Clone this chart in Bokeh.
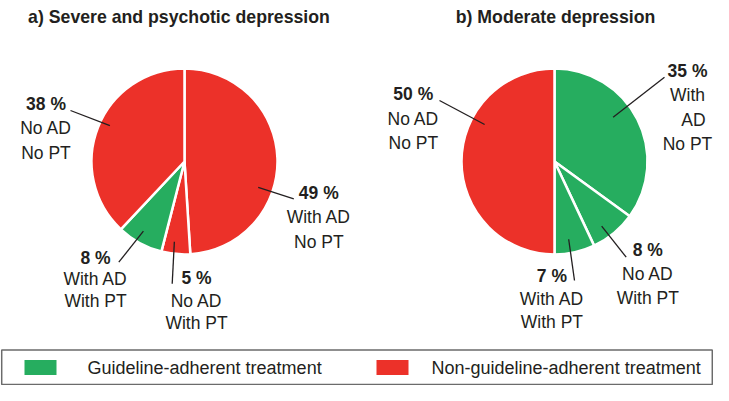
import math
from bokeh.plotting import figure
from bokeh.models import Range1d, ColumnDataSource
from bokeh.embed import file_html
from bokeh.resources import INLINE
from bokeh.core.properties import value

# ---------------- data ----------------
titles = ["a) Severe and psychotic depression", "b) Moderate depression"]

a_values = [49, 5, 8, 38]
a_lines = [["With AD", "No PT"], ["No AD", "With PT"], ["With AD", "With PT"], ["No AD", "No PT"]]
a_adherent = [False, False, True, False]

b_values = [35, 8, 7, 50]
b_lines = [["With", "AD", "No PT"], ["No AD", "With PT"], ["With AD", "With PT"], ["No AD", "No PT"]]
b_adherent = [True, True, True, False]

legend_labels = ["Guideline-adherent treatment", "Non-guideline-adherent treatment"]

# ---------------- style / layout ----------------
GREEN = "#26AD5F"
RED = "#EC3129"
TXT = "#231f20"
FONT = "Liberation Sans"

W, H = 713, 385


def Y(py):
    return -py


p = figure(width=W, height=H, x_range=Range1d(0, W), y_range=Range1d(-H, 0),
           output_backend="svg", toolbar_location=None, min_border=0,
           x_axis_location=None, y_axis_location=None)
p.grid.visible = False
p.outline_line_color = None

pies = [
    dict(values=a_values, lines=a_lines, adherent=a_adherent, title=titles[0],
         cx=184, cy=161, r=93, title_x=178.5,
         anchor=[(0.62, 0.84), (0.6, 0.87), (0.56, 0.87), (0.53, 0.89)],
         label_xy=[(318.3, 192), (196, 277.8), (95, 257), (45.5, 103.5)],
         leader_end=[(293.3, 198.3), (171.7, 283.3), (118.3, 261.7), (70, 110)],
         spacing=[24.5, 22.5, 21.5, 24.3]),
    dict(values=b_values, lines=b_lines, adherent=b_adherent, title=titles[1],
         cx=554, cy=161, r=93, title_x=555,
         anchor=[(0.42, 0.79), (0.62, 0.86), (0.59, 0.85), (0.655, 0.85)],
         label_xy=[(687, 70), (647.3, 249.7), (551.4, 275.5), (412.8, 93.7)],
         leader_end=[(664, 76.7), (625.7, 256.7), (574, 280), (439, 100)],
         spacing=[24.5, 24, 23, 24.4]),
]

for pie in pies:
    vals = pie["values"]
    total = float(sum(vals))
    cx, cy, r = pie["cx"], pie["cy"], pie["r"]
    starts, ends, colors = [], [], []
    seg = dict(x0=[], y0=[], x1=[], y1=[])
    bold = dict(x=[], y=[], t=[])
    norm = dict(x=[], y=[], t=[])
    cum = 0.0
    for i, v in enumerate(vals):
        t1 = cum / total * 2 * math.pi
        cum += v
        t2 = cum / total * 2 * math.pi
        # clockwise from 12 o'clock -> bokeh anticlockwise from +x
        starts.append(math.pi / 2 - t2)
        ends.append(math.pi / 2 - t1)
        colors.append(GREEN if pie["adherent"][i] else RED)
        fa, fr = pie["anchor"][i]
        th = t1 + fa * (t2 - t1)
        ix = cx + fr * r * math.sin(th)
        iy = cy - fr * r * math.cos(th)
        ex, ey = pie["leader_end"][i]
        seg["x0"].append(ix); seg["y0"].append(Y(iy))
        seg["x1"].append(ex); seg["y1"].append(Y(ey))
        lx, ly = pie["label_xy"][i]
        bold["x"].append(lx); bold["y"].append(Y(ly)); bold["t"].append(f"{v} %")
        for k, line in enumerate(pie["lines"][i]):
            norm["x"].append(lx + (6 if line == "AD" else 0))
            norm["y"].append(Y(ly + (k + 1) * pie["spacing"][i]))
            norm["t"].append(line)

    src = ColumnDataSource(dict(x=[cx] * len(vals), y=[Y(cy)] * len(vals),
                                s=starts, e=ends, c=colors))
    p.wedge(x="x", y="y", radius=r, start_angle="s", end_angle="e", fill_color="c",
            line_color="white", line_width=2.5, source=src)
    p.segment(x0="x0", y0="y0", x1="x1", y1="y1", line_color=TXT, line_width=1.3,
              source=ColumnDataSource(seg))
    p.text(x="x", y="y", text="t", source=ColumnDataSource(bold), text_font=value(FONT),
           text_font_style="bold", text_font_size="17.5px", text_color=TXT,
           text_align="center", text_baseline="middle")
    p.text(x="x", y="y", text="t", source=ColumnDataSource(norm), text_font=value(FONT),
           text_font_size="17.5px", text_color=TXT,
           text_align="center", text_baseline="middle")
    p.text(x=[pie["title_x"]], y=[Y(16.5)], text=[pie["title"]], text_font=value(FONT),
           text_font_style="bold", text_font_size="17.7px", text_color=TXT,
           text_align="center", text_baseline="alphabetic")

# ---------------- legend ----------------
p.quad(left=[1.2], right=[711.8], top=[Y(349.5)], bottom=[Y(384)], fill_color=None,
       line_color="#6b6b6b", line_width=1.5)
leg_colors = [GREEN, RED]
sq_left = [24, 376]
txt_left = [87, 431]
for i, lab in enumerate(legend_labels):
    p.quad(left=[sq_left[i]], right=[sq_left[i] + 32], top=[Y(359.5)], bottom=[Y(374.5)],
           fill_color=leg_colors[i], line_color=None)
    p.text(x=[txt_left[i]], y=[Y(367)], text=[lab], text_font=value(FONT),
           text_font_size="18px", text_color=TXT, text_align="left", text_baseline="middle")

open("out.html", "w").write(file_html(p, INLINE))
